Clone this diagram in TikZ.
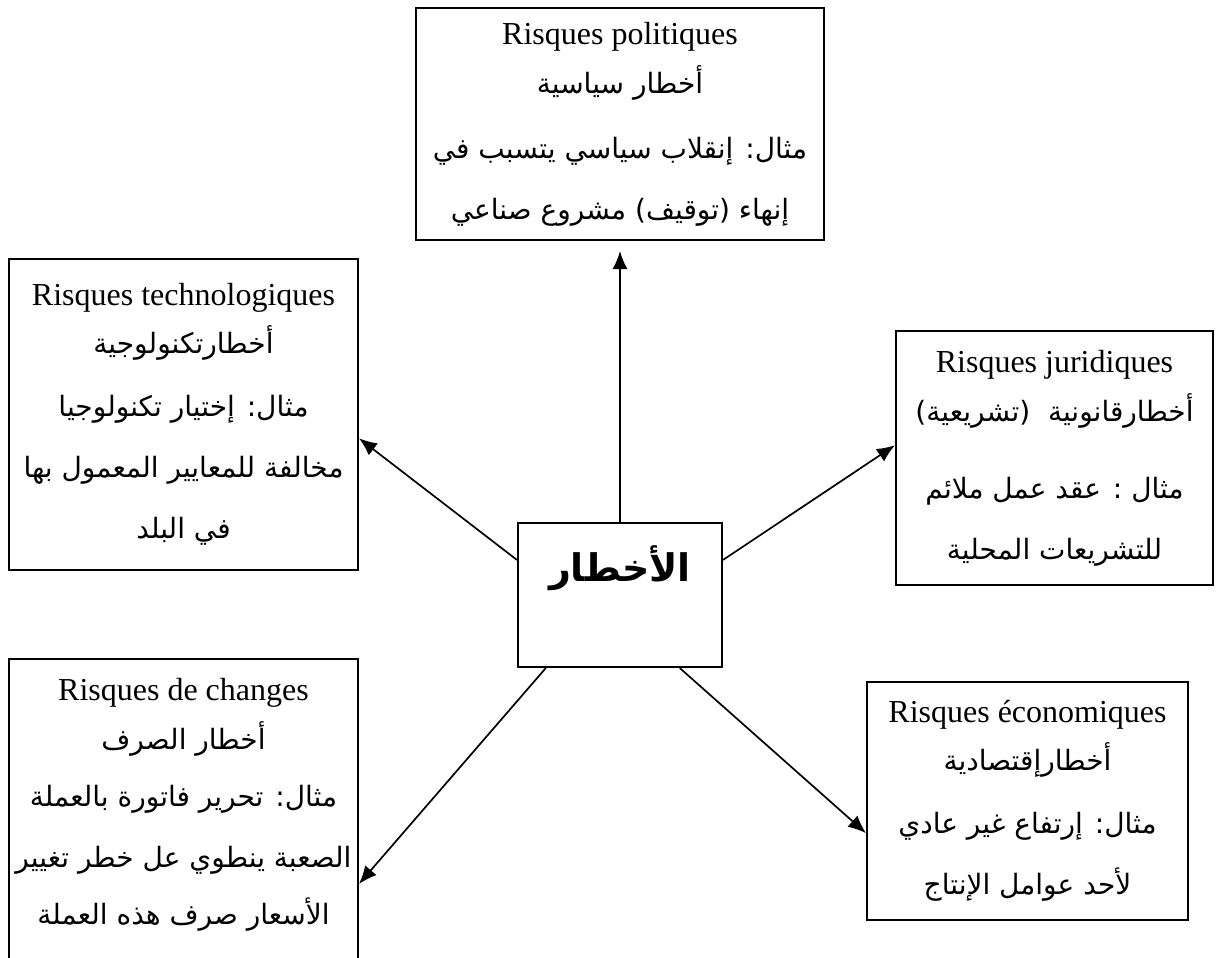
\documentclass[tikz,border=0pt]{standalone}
\usepackage{fontspec}
\setmainfont{Liberation Serif}
\newfontfamily\arabicfont[Script=Arabic]{DejaVu Sans}
\TeXXeTstate=1
\usetikzlibrary{arrows.meta,calc}
% one right-to-left Arabic line
\newcommand\AR[1]{{\arabicfont\fontsize{14}{30.5}\selectfont\beginR #1\endR}}

\begin{document}
\begin{tikzpicture}[x=0.5pt,y=-0.5pt,
  box/.style={draw, line width=1pt, align=center, inner sep=0pt,
    font=\fontsize{16}{30.5}\selectfont},
  txt/.style={align=center, inner sep=0pt, font=\fontsize{16}{30.5}\selectfont},
  arr/.style={line width=0.85pt, -{Latex[length=9pt,width=7.5pt]}}]
\useasboundingbox (0,0) rectangle (1216,958);
\clip (0,0) rectangle (1216,958);

% central box
\node[box, minimum width=102pt, minimum height=72pt] (ctr) at (620,595)
  {\raisebox{7pt}[0pt][0pt]{\arabicfont\bfseries\fontsize{19}{19}\selectfont\beginR الأخطار\endR}};

% political risks
\node[box, minimum width=204pt, minimum height=116pt] (pol) at (620,124)
  {Risques politiques\\[-6pt]
   \AR{أخطار سياسية}\\[2pt]
   \AR{مثال: إنقلاب سياسي يتسبب في}\\
   \AR{إنهاء (توقيف) مشروع صناعي}};

% technological risks
\node[box, minimum width=174.5pt, minimum height=155.5pt] (tech) at (183.5,414.5)
  {Risques technologiques\\[-6.5pt]
   \AR{أخطارتكنولوجية}\\[1pt]
   \AR{مثال: إختيار تكنولوجيا}\\
   \AR{مخالفة للمعايير المعمول بها}\\
   \AR{في البلد}};

% legal risks
\node[box, minimum width=158.5pt, minimum height=127pt] (jur) at (1054.5,458)
  {Risques juridiques\\[-6pt]
   \AR{أخطارقانونية\ \ (تشريعية)}\\[8pt]
   \AR{مثال : عقد عمل ملائم}\\
   \AR{للتشريعات المحلية}};

% exchange risks (box runs past the lower edge)
\node[box, minimum width=174.5pt, minimum height=175.5pt] (chg) at (183.5,834.5) {};
\node[txt] (chgtext) at (183.5,805)
  {Risques de changes\\[-6pt]
   \AR{أخطار الصرف}\\[-2pt]
   \AR{مثال: تحرير فاتورة بالعملة}\\
   \AR{الصعبة ينطوي عل خطر تغيير}\\[-2pt]
   \AR{الأسعار صرف هذه العملة}};

% economic risks
\node[box, minimum width=160.5pt, minimum height=119pt] (eco) at (1027.5,801)
  {Risques économiques\\[-6.5pt]
   \AR{أخطارإقتصادية}\\[1pt]
   \AR{مثال: إرتفاع غير عادي}\\
   \AR{لأحد عوامل الإنتاج}};

% connectors from the centre
\draw[arr, shorten >=5pt] (ctr.north) -- (pol.south);
\draw[arr] ($(ctr.north west)!0.26!(ctr.south west)$) -- ($(tech.north east)!0.576!(tech.south east)$);
\draw[arr] ($(ctr.north east)!0.26!(ctr.south east)$) -- ($(jur.north west)!0.45!(jur.south west)$);
\draw[arr] ($(ctr.south west)!0.14!(ctr.south east)$) -- ($(chg.north east)!0.64!(chg.south east)$);
\draw[arr] ($(ctr.south west)!0.79!(ctr.south east)$) -- ($(eco.north west)!0.634!(eco.south west)$);
\end{tikzpicture}
\end{document}
